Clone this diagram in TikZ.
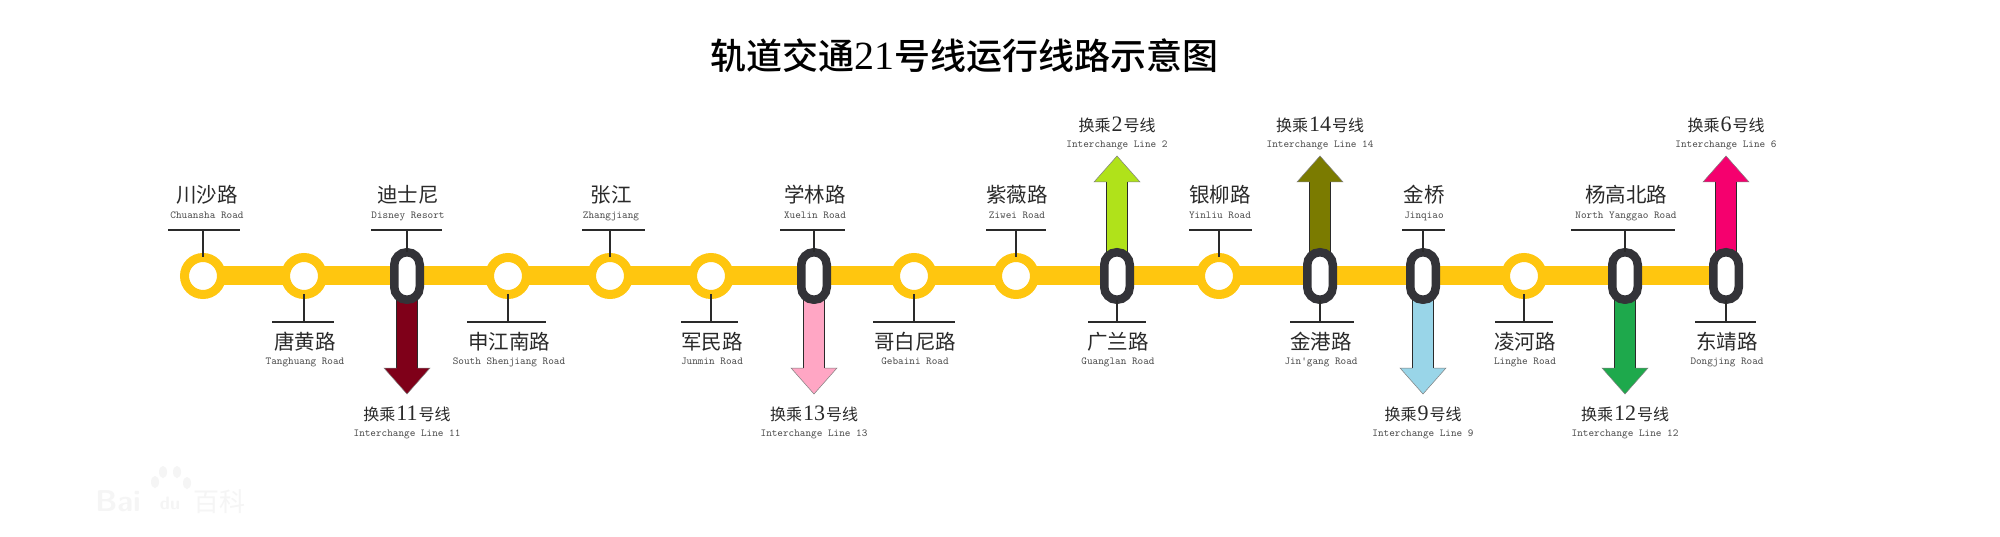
\documentclass[tikz,border=0pt]{standalone}
\usepackage{fontspec}
\newfontfamily\cjkf{Noto Sans CJK SC}
\newfontfamily\cjktitle{Noto Sans CJK SC Medium}
\newfontfamily\numf{Liberation Serif}
\definecolor{lineyellow}{HTML}{FFC60F}
\definecolor{ovaldark}{HTML}{333338}
\definecolor{inkdark}{HTML}{2A2A2A}
\definecolor{wm}{HTML}{F5F5F5}
\definecolor{lineeleven}{HTML}{7F0019}
\definecolor{linethirteen}{HTML}{FFA6C4}
\definecolor{linetwo}{HTML}{B0E21A}
\definecolor{linefourteen}{HTML}{7B7B00}
\definecolor{linenine}{HTML}{99D5E8}
\definecolor{linetwelve}{HTML}{1EA94C}
\definecolor{linesix}{HTML}{F5006E}
\tikzset{
  ring/.style={circle,draw=lineyellow,fill=white,line width=9pt,minimum size=37pt,inner sep=0pt,outer sep=0pt},
  oval/.style={rectangle,draw=ovaldark,fill=white,line width=8.5pt,minimum width=25.5pt,minimum height=47.5pt,rounded corners=12.7pt,inner sep=0pt,outer sep=0pt},
  cjktext/.style={inner sep=0pt,text=inkdark,font=\cjkf\fontsize{20.5}{20}\selectfont,text height=17pt,text depth=3pt},
  engtext/.style={inner sep=0pt,text=inkdark!85,font=\ttfamily\fontsize{10.7}{11}\selectfont,text height=8pt,text depth=2pt},
  xfertext/.style={inner sep=0pt,text=inkdark,font=\cjkf\fontsize{16}{16}\selectfont,text height=14pt,text depth=2pt},
  tick/.style={draw=inkdark,line width=1.1pt},
  rule/.style={draw=inkdark,line width=1.2pt},
  shaftedge/.style={draw=inkdark,line width=1pt},
  headedge/.style={draw=inkdark!60,line width=.5pt,line join=miter},
  wmtext/.style={inner sep=0pt,text=wm},
}
\newcommand{\xfernum}[1]{\hspace{1pt}{\numf\fontsize{22}{22}\selectfont #1}\hspace{1pt}}
% [text shift], id, x, left, right, chinese, english
\newcommand{\labelUp}[7][1]{%
  \coordinate (#2tl) at (#4,230);
  \coordinate (#2tr) at (#5,230);
  \coordinate (#2tm) at (#3,230);
  \draw[rule] (#2tl) -- (#2tr);
  \draw[tick] (#2tm) -- (#2.north);
  \node[cjktext] (#2cjk) at (#3+#1,196) {#6};
  \node[engtext] (#2eng) at (#3+#1,216) {#7};
}
\newcommand{\labelDown}[7][1]{%
  \coordinate (#2tl) at (#4,322);
  \coordinate (#2tr) at (#5,322);
  \coordinate (#2tm) at (#3,322);
  \draw[rule] (#2tl) -- (#2tr);
  \draw[tick] (#2.south) -- (#2tm);
  \node[cjktext] (#2cjk) at (#3+#1,342) {#6};
  \node[engtext] (#2eng) at (#3+#1,361) {#7};
}
% id, x, colour, number
\newcommand{\xferUp}[4]{%
  \fill[#3] (#2-10.5,262) -- (#2-10.5,182) -- (#2-23,182) -- (#2,156) -- (#2+23,182) -- (#2+10.5,182) -- (#2+10.5,262) -- cycle;
  \draw[shaftedge] (#2-10.5,262) -- (#2-10.5,182);
  \draw[shaftedge] (#2+10.5,262) -- (#2+10.5,182);
  \draw[headedge] (#2-10.5,182) -- (#2-23,182) -- (#2,156) -- (#2+23,182) -- (#2+10.5,182);
  \node[xfertext] (#1xc) at (#2,126) {换乘\xfernum{#4}号线};
  \node[engtext] (#1xe) at (#2,145) {Interchange Line #4};
}
\newcommand{\xferDown}[4]{%
  \fill[#3] (#2-10.5,290) -- (#2-10.5,368) -- (#2-23,368) -- (#2,394) -- (#2+23,368) -- (#2+10.5,368) -- (#2+10.5,290) -- cycle;
  \draw[shaftedge] (#2-10.5,290) -- (#2-10.5,368);
  \draw[shaftedge] (#2+10.5,290) -- (#2+10.5,368);
  \draw[headedge] (#2-10.5,368) -- (#2-23,368) -- (#2,394) -- (#2+23,368) -- (#2+10.5,368);
  \node[xfertext] (#1xc) at (#2,414) {换乘\xfernum{#4}号线};
  \node[engtext] (#1xe) at (#2,433) {Interchange Line #4};
}
\begin{document}
\begin{tikzpicture}[x=1pt,y=-1pt]
\useasboundingbox (0,0) rectangle (2000,537);
\fill[white] (0,0) rectangle (2000,537);
\node[inner sep=0pt,text=black,font=\cjktitle\fontsize{36}{36}\selectfont] (title) at (964,56) {轨道交通{\numf\fontsize{40}{40}\selectfont 21}号线运行线路示意图};
% watermark
\node[wmtext,font=\sffamily\bfseries\fontsize{30}{30}\selectfont] (wma) at (118,501) {Bai};
\node[wmtext,font=\sffamily\bfseries\fontsize{18}{18}\selectfont] (wmb) at (170,503) {du};
\node[wmtext,font=\cjkf\fontsize{26}{26}\selectfont] (wmc) at (219,502) {百科};
\foreach \px/\py in {163/472,177/472,155/482,187/483}
  \fill[wm] (\px,\py) ellipse (4pt and 6pt);
% line
\coordinate (start) at (203,276);
\coordinate (end) at (1726,276);
\draw[lineyellow,line width=19pt] (start) -- (end);
% transfer arrows
\xferDown{s3}{407}{lineeleven}{11}
\xferDown{s7}{814}{linethirteen}{13}
\xferUp{s10}{1117}{linetwo}{2}
\xferUp{s12}{1320}{linefourteen}{14}
\xferDown{s13}{1423}{linenine}{9}
\xferDown{s15}{1625}{linetwelve}{12}
\xferUp{s16}{1726}{linesix}{6}
% stations
\node[ring] (s1) at (203,276) {};
\node[ring] (s2) at (304,276) {};
\node[oval] (s3) at (407,276) {};
\node[ring] (s4) at (508,276) {};
\node[ring] (s5) at (610,276) {};
\node[ring] (s6) at (711,276) {};
\node[oval] (s7) at (814,276) {};
\node[ring] (s8) at (914,276) {};
\node[ring] (s9) at (1016,276) {};
\node[oval] (s10) at (1117,276) {};
\node[ring] (s11) at (1219,276) {};
\node[oval] (s12) at (1320,276) {};
\node[oval] (s13) at (1423,276) {};
\node[ring] (s14) at (1524,276) {};
\node[oval] (s15) at (1625,276) {};
\node[oval] (s16) at (1726,276) {};
% labels
\labelUp[4]{s1}{203}{168}{240}{川沙路}{Chuansha Road}
\labelDown{s2}{304}{272}{334}{唐黄路}{Tanghuang Road}
\labelUp{s3}{407}{371}{442}{迪士尼}{Disney Resort}
\labelDown{s4}{508}{467}{546}{申江南路}{South Shenjiang Road}
\labelUp{s5}{610}{582}{645}{张江}{Zhangjiang}
\labelDown{s6}{711}{681}{738}{军民路}{Junmin Road}
\labelUp{s7}{814}{780}{845}{学林路}{Xuelin Road}
\labelDown{s8}{914}{873}{955}{哥白尼路}{Gebaini Road}
\labelUp{s9}{1016}{986}{1046}{紫薇路}{Ziwei Road}
\labelDown{s10}{1117}{1088}{1146}{广兰路}{Guanglan Road}
\labelUp{s11}{1219}{1189}{1252}{银柳路}{Yinliu Road}
\labelDown{s12}{1320}{1290}{1354}{金港路}{Jin'gang Road}
\labelUp{s13}{1423}{1402}{1445}{金桥}{Jinqiao}
\labelDown{s14}{1524}{1495}{1553}{凌河路}{Linghe Road}
\labelUp{s15}{1625}{1571}{1675}{杨高北路}{North Yanggao Road}
\labelDown{s16}{1726}{1695}{1756}{东靖路}{Dongjing Road}
\end{tikzpicture}
\end{document}
